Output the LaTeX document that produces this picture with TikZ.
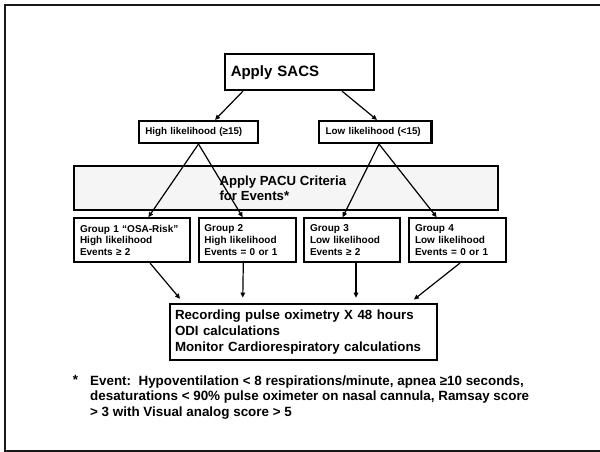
\documentclass[tikz,border=0pt]{standalone}
\usepackage{fontspec}
\setmainfont{Liberation Sans}
\usetikzlibrary{arrows.meta}
\begin{document}
\begin{tikzpicture}[x=1pt, y=-1pt,
    box/.style={draw, line width=2.1pt, inner ysep=0pt, align=left},
    groupbox/.style={box, inner xsep=5.7pt, text width=#1-11.4pt, minimum height=43.7pt,
      font=\fontsize{10}{11.7}\selectfont\bfseries},
    arr/.style={line width=1.2pt, -{Triangle[length=5pt,width=4.5pt]}},
    edge/.style={line width=1.2pt}]
  \useasboundingbox (0,0) rectangle (600,452);
  \draw[line width=2.5pt, black!90] (600,5) -- (5,5) -- (5,451) -- (600,451);
  \node [box, inner xsep=5.4pt, text width=137.9pt, minimum height=35.7pt,
    font=\fontsize{15}{17}\selectfont\bfseries] (sacs) at (299.7,72.2) {Apply SACS};
  \node [box, inner xsep=6.4pt, text width=106.2pt, minimum height=22pt,
    font=\fontsize{9.8}{11}\selectfont\bfseries] (high) at (198.5,132) {High likelihood (≥15)};
  \node [box, inner xsep=6.7pt, text width=99.1pt, minimum height=22pt,
    font=\fontsize{9.8}{11}\selectfont\bfseries] (low) at (375.25,132) {Low likelihood (<15)};
  \node [box, fill=black!4, minimum width=424pt, minimum height=43.7pt] (pacu) at (286.3,187.85) {};
  \node [anchor=north west, inner sep=0pt, align=left,
    font=\fontsize{13.2}{15}\selectfont\bfseries] (pacutext) at (219.3,175.5) {Apply PACU Criteria\\for Events*};
  \node [groupbox=115.7pt] (g1) at (132.15,240.15) {Group 1 “OSA-Risk”\\High likelihood\\Events ≥ 2};
  \node [groupbox=97pt] (g2) at (247.2,240.15) {Group 2\\High likelihood\\Events = 0 or 1};
  \node [groupbox=95.7pt] (g3) at (352.15,240.15) {Group 3\\Low likelihood\\Events ≥ 2};
  \node [groupbox=96.4pt] (g4) at (457.5,240.15) {Group 4\\Low likelihood\\Events = 0 or 1};
  \node [box, inner xsep=4.7pt, text width=257.6pt, minimum height=56.3pt,
    font=\fontsize{13.3}{15.8}\selectfont\bfseries] (rec) at (303.8,331.85)
    {Recording pulse oximetry X 48 hours\\ODI calculations\\Monitor Cardiorespiratory calculations};
  \node [anchor=north west, inner sep=0pt, font=\fontsize{13.4}{15.6}\selectfont\bfseries] (star) at (72.7,375.4) {*};
  \node [anchor=north west, inner sep=0pt, align=left,
    font=\fontsize{13.4}{15.6}\selectfont\bfseries] (note) at (90,375.4)
    {Event:\ \ Hypoventilation < 8 respirations/minute, apnea ≥10 seconds,\\
     desaturations < 90\% pulse oximeter on nasal cannula, Ramsay score\\
     > 3 with Visual analog score > 5};
  \draw [arr] ([xshift=-56.7pt]sacs.south) -- ([xshift=16.5pt]high.north);
  \draw [arr] ([xshift=42.3pt]sacs.south) -- ([xshift=1.75pt]low.north);
  \draw [arr] (high.south) -- ([xshift=16.2pt]g1.north);
  \draw [arr] (high.south) -- ([xshift=-4.5pt]g2.north);
  \draw [arr] ([xshift=3.75pt]low.south) -- ([xshift=-9.5pt]g3.north);
  \draw [arr] ([xshift=3.75pt]low.south) -- ([xshift=-20.8pt]g4.north);
  \draw [arr, shorten >=5pt] ([xshift=17.85pt]g1.south) -- ([xshift=-120.5pt]rec.north);
  \draw [arr, shorten >=5pt] ([xshift=-3.9pt]g2.south) -- ([xshift=-61.1pt]rec.north);
  \draw [arr, shorten >=5pt] ([xshift=3.85pt]g3.south) -- ([xshift=52.2pt]rec.north);
  \draw [arr, shorten >=5pt] ([xshift=2.5pt]g4.south) -- ([xshift=106.2pt]rec.north);
\end{tikzpicture}
\end{document}
